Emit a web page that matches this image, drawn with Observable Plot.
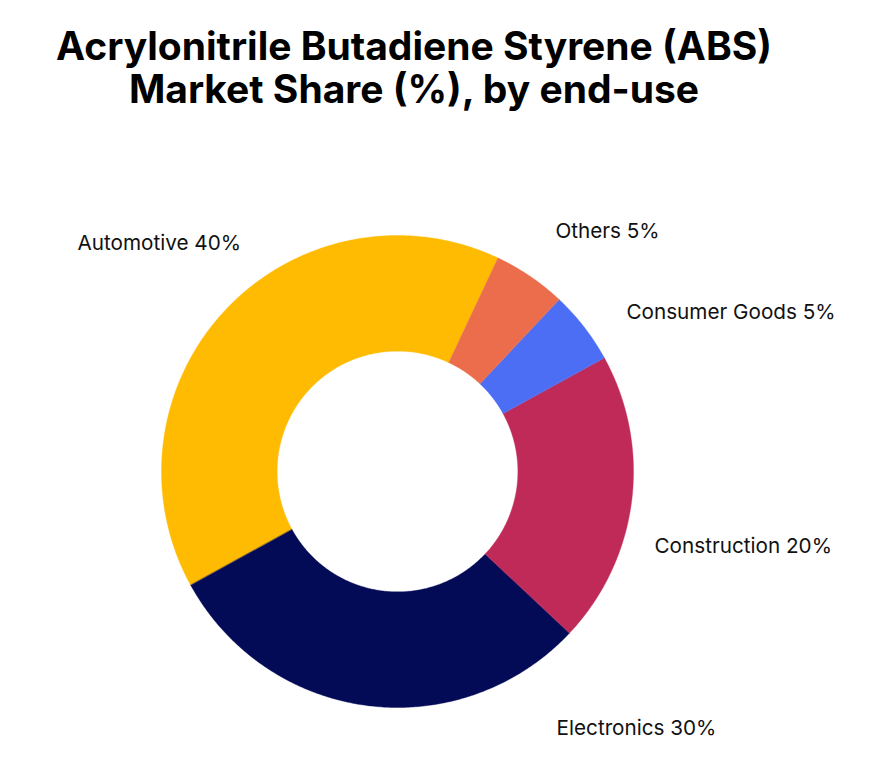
<!DOCTYPE html>
<html>
<head>
<meta charset="utf-8">
<script src="https://cdn.jsdelivr.net/npm/d3@7"></script>
<script src="https://cdn.jsdelivr.net/npm/@observablehq/plot@0.6"></script>
<style>
  html, body { margin: 0; padding: 0; background: #ffffff; }
  #wrap { position: relative; width: 871px; height: 783px; overflow: hidden; }
  #title {
    position: absolute; left: 0; top: 24px; width: 828px;
    text-align: center; font-family: Inter, "Noto Sans", sans-serif;
    font-weight: 700; font-size: 39px; line-height: 43px; color: #000;
  }
  #chart { position: absolute; left: 0; top: 130px; }
</style>
</head>
<body>
<div id="wrap">
  <div id="title">Acrylonitrile Butadiene Styrene (ABS)<br>Market Share (%), by end-use</div>
  <div id="chart"></div>
</div>
<script>
// ---- data ----
const categories = ["Automotive", "Electronics", "Construction", "Consumer Goods", "Others"];
const shares = [40, 30, 20, 5, 5];
const colors = ["#FEBB02", "#030B56", "#C02A59", "#4C6EF5", "#EB6D4C"];

// ---- layout constants (not data) ----
const startDeg = 25.2;          // angle where the first slice begins (clockwise from top)
const innerRatio = 0.51;        // hole radius / outer radius
const labelAnchor = {           // label anchors in chart units (outer radius = 1)
  "Automotive":     [-1.356, 0.966],
  "Others":         [0.669, 1.017],
  "Consumer Goods": [0.970, 0.674],
  "Construction":   [1.089, -0.318],
  "Electronics":    [0.674, -1.089]
};

const data = categories.map((c, i) => ({name: c, value: shares[i]}));

// pie angles, drawn counter-clockwise from startDeg
const a0 = startDeg * Math.PI / 180;
const arcs = d3.pie().sort(null).value(d => d.value).startAngle(a0).endAngle(a0 - 2 * Math.PI)(data);

// build slice outlines (angles clockwise from top; x = sin, y = cos)
const rows = [];
for (const a of arcs) {
  const s = a.startAngle, e = a.endAngle;
  const n = Math.max(8, Math.ceil(Math.abs(e - s) / (Math.PI / 360)));
  for (let k = 0; k <= n; k++) {
    const t = s + (e - s) * k / n;
    rows.push({name: a.data.name, x: Math.sin(t), y: Math.cos(t)});
  }
  for (let k = n; k >= 0; k--) {
    const t = s + (e - s) * k / n;
    rows.push({name: a.data.name, x: innerRatio * Math.sin(t), y: innerRatio * Math.cos(t)});
  }
}

const labels = data.map(d => ({
  text: `${d.name} ${d.value}%`,
  x: labelAnchor[d.name][0],
  y: labelAnchor[d.name][1]
}));

const cx = 397, cy = 341, R = 236;

const chart = Plot.plot({
  width: 871,
  height: 653,
  margin: 0,
  style: {background: "transparent", fontFamily: "Inter, 'Noto Sans', sans-serif"},
  x: {type: "linear", domain: [-1, 1], range: [cx - R, cx + R], axis: null},
  y: {type: "linear", domain: [-1, 1], range: [cy + R, cy - R], axis: null},
  color: {domain: categories, range: colors},
  marks: [
    Plot.line(rows, {x: "x", y: "y", z: "name", fill: "name", stroke: "name", strokeWidth: 0.4, curve: "linear-closed"}),
    Plot.text(labels, {x: "x", y: "y", text: "text", textAnchor: "start", fontSize: 20.7, fill: "#111111"})
  ]
});

document.getElementById("chart").appendChild(chart);
</script>
</body>
</html>
